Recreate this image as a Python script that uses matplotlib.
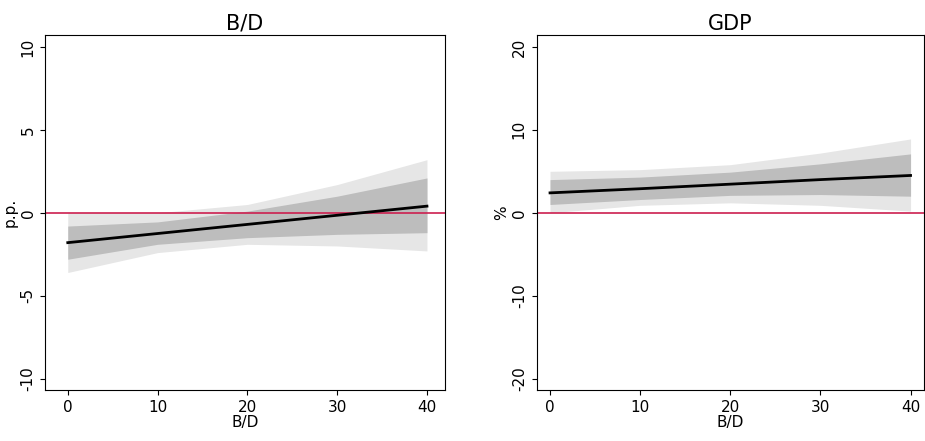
import numpy as np
import matplotlib.pyplot as plt

x = [0, 10, 20, 30, 40]

bd_line = [-1.8, -1.25, -0.7, -0.15, 0.4]
bd_in_lo = [-2.8, -1.9, -1.5, -1.3, -1.2]
bd_in_hi = [-0.8, -0.55, 0.1, 1.0, 2.1]
bd_out_lo = [-3.6, -2.4, -1.9, -2.0, -2.3]
bd_out_hi = [0.0, 0.0, 0.5, 1.7, 3.2]

gdp_line = [2.4, 2.9, 3.45, 4.0, 4.5]
gdp_in_lo = [1.0, 1.6, 2.1, 2.2, 2.0]
gdp_in_hi = [4.0, 4.3, 4.9, 5.9, 7.1]
gdp_out_lo = [0.0, 0.9, 1.2, 0.9, 0.2]
gdp_out_hi = [5.0, 5.2, 5.8, 7.2, 8.9]

panels = [
    ("B/D", "p.p.", 10, (-2.5, 42), bd_line, bd_in_lo, bd_in_hi, bd_out_lo, bd_out_hi),
    ("GDP", "%", 20, (-1.5, 41.5), gdp_line, gdp_in_lo, gdp_in_hi, gdp_out_lo, gdp_out_hi),
]

fig = plt.figure(figsize=(9.25, 4.41), dpi=100)
boxes = [[0.049, 0.115, 0.432, 0.805], [0.580, 0.115, 0.419, 0.805]]
for box, (title, ylab, lim, xl, line, ilo, ihi, olo, ohi) in zip(boxes, panels):
    ax = fig.add_axes(box)
    ax.fill_between(x, olo, ohi, color="#e6e6e6", lw=0)
    ax.fill_between(x, ilo, ihi, color="#bdbdbd", lw=0)
    ax.axhline(0, color="#cc1f4f", lw=1.2)
    ax.plot(x, line, color="black", lw=2)
    ax.set_xlim(*xl)
    ax.set_ylim(-lim * 1.07, lim * 1.07)
    ax.set_xticks([0, 10, 20, 30, 40])
    ax.set_yticks(np.linspace(-lim, lim, 5))
    ax.set_yticklabels([f"{v:g}" for v in np.linspace(-lim, lim, 5)], rotation=90, va="center")
    ax.set_title(title, fontsize=15, pad=4)
    ax.set_xlabel("B/D", fontsize=11, labelpad=0)
    ax.set_ylabel(ylab, fontsize=11, labelpad=2)
    ax.tick_params(labelsize=11)
fig.savefig("out.png")
